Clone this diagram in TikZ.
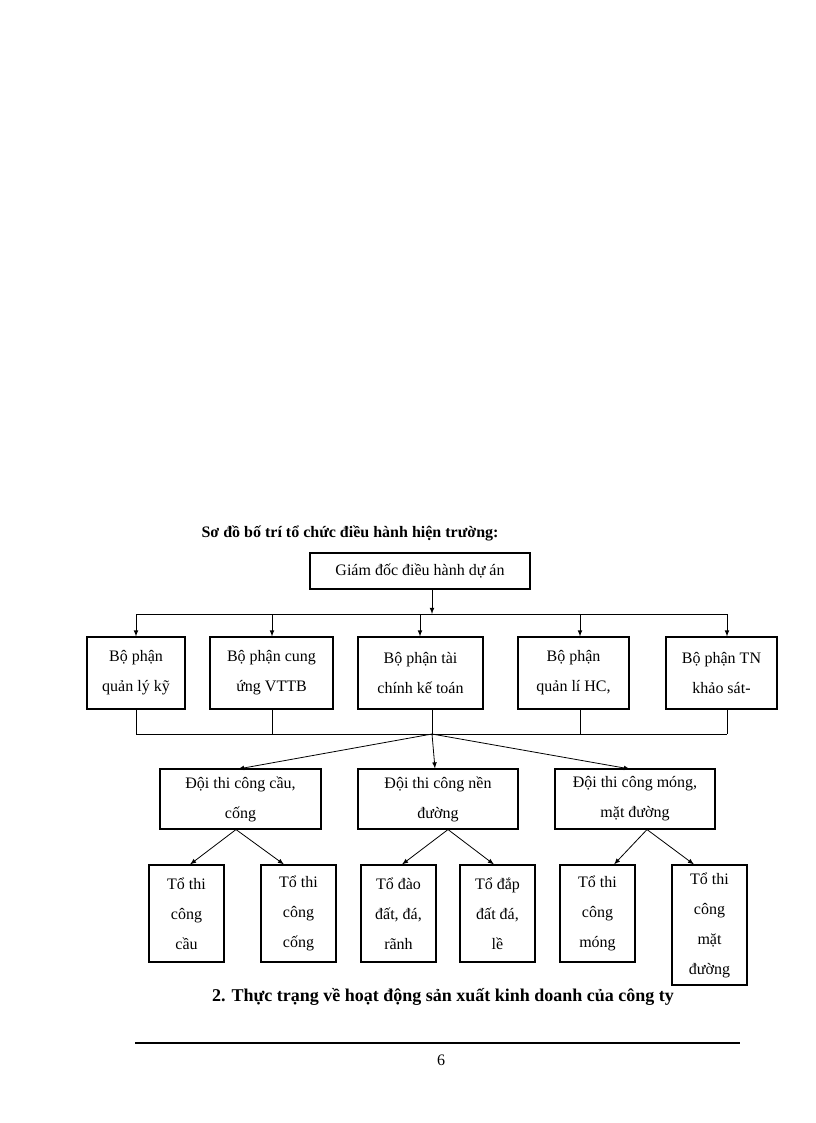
\documentclass[tikz,border=0pt]{standalone}
\usepackage{fontspec}
\setmainfont{Liberation Serif}
\begin{document}
\begin{tikzpicture}[x=0.75pt,y=-0.75pt,
  bx/.style={draw,line width=0.8pt,align=center,inner sep=0pt,font=\fontsize{12}{22.5}\selectfont},
  ar/.style={-latex,line width=0.6pt},
  ln/.style={line width=0.6pt}]
\useasboundingbox (0,0) rectangle (816,1123);
\newcommand\bxat[6]{\node[bx,minimum width={(#4-#2)*0.75pt},minimum height={(#5-#3)*0.75pt}] (#1) at ({(#2+#4)/2},{(#3+#5)/2}) {#6};}
\node[font=\bfseries\fontsize{12}{14}\selectfont] (title) at (350,533) {Sơ đồ bố trí tổ chức điều hành hiện trường:};
\bxat{gd}{310}{553}{530}{589}{Giám đốc điều hành dự án}
\bxat{b1}{87}{637}{185}{709}{Bộ phận\\quản lý kỹ}
\bxat{b2}{210}{637}{333}{709}{Bộ phận cung\\ứng VTTB}
\bxat{b3}{358}{637}{483}{709}{Bộ phận tài\\chính kế toán}
\bxat{b4}{518}{637}{629}{709}{Bộ phận\\quản lí HC,}
\bxat{b5}{666}{637}{777}{709}{Bộ phận TN\\khảo sát-}
\bxat{d1}{160}{769}{321}{829}{Đội thi công cầu,\\cống}
\bxat{d2}{358}{769}{518}{829}{Đội thi công nền\\đường}
\bxat{d3}{555}{769}{715}{829}{Đội thi công móng,\\mặt đường}
\bxat{t1}{149}{865}{224}{962}{Tổ thi\\công\\cầu}
\bxat{t2}{261}{865}{336}{962}{Tổ thi\\công\\cống}
\bxat{t3}{361}{865}{436}{962}{Tổ đào\\đất, đá,\\rãnh}
\bxat{t4}{460}{865}{535}{962}{Tổ đắp\\đất đá,\\lề}
\bxat{t5}{560}{865}{635}{962}{Tổ thi\\công\\móng}
\bxat{t6}{672}{865}{747}{985}{Tổ thi\\công\\mặt\\đường}
% top bus
\coordinate (ub) at (432,614);
\draw[ar] (gd.south -| ub) -- (ub);
\draw[ln] (136,614) -- (727,614);
\foreach \b/\x in {b1/136,b2/272,b3/420,b4/580,b5/727}
  \draw[ar] (\x,614) -- (\b.north -| {(\x,0)});
% lower bus
\coordinate (lb) at (432,734);
\draw[ln] (136,734) -- (727,734);
\foreach \b/\x in {b1/136,b2/272,b3/432,b4/580,b5/727}
  \draw[ln] (\b.south -| {(\x,0)}) -- (\x,734);
\draw[ar] (lb) -- (238,769);
\draw[ar] (lb) -- (d2.north -| {(435,0)});
\draw[ar] (lb) -- (630,769);
% team arrows
\draw[ar] (d1.south -| {(236,0)}) -- (t1.north -| {(190,0)});
\draw[ar] (d1.south -| {(236,0)}) -- (t2.north -| {(284,0)});
\draw[ar] (d2.south -| {(448,0)}) -- (t3.north -| {(402,0)});
\draw[ar] (d2.south -| {(448,0)}) -- (t4.north -| {(494,0)});
\draw[ar] (d3.south -| {(647,0)}) -- (t5.north -| {(614,0)});
\draw[ar] (d3.south -| {(647,0)}) -- (t6.north -| {(694,0)});
\node[font=\bfseries\fontsize{13.5}{16}\selectfont] (sec) at (443,997) {2. Thực trạng về hoạt động sản xuất kinh doanh của công ty};
\draw[line width=1.5pt] (135,1043) -- (740,1043);
\node[font=\fontsize{12}{14}\selectfont] (pg) at (441,1060) {6};
\end{tikzpicture}
\end{document}
